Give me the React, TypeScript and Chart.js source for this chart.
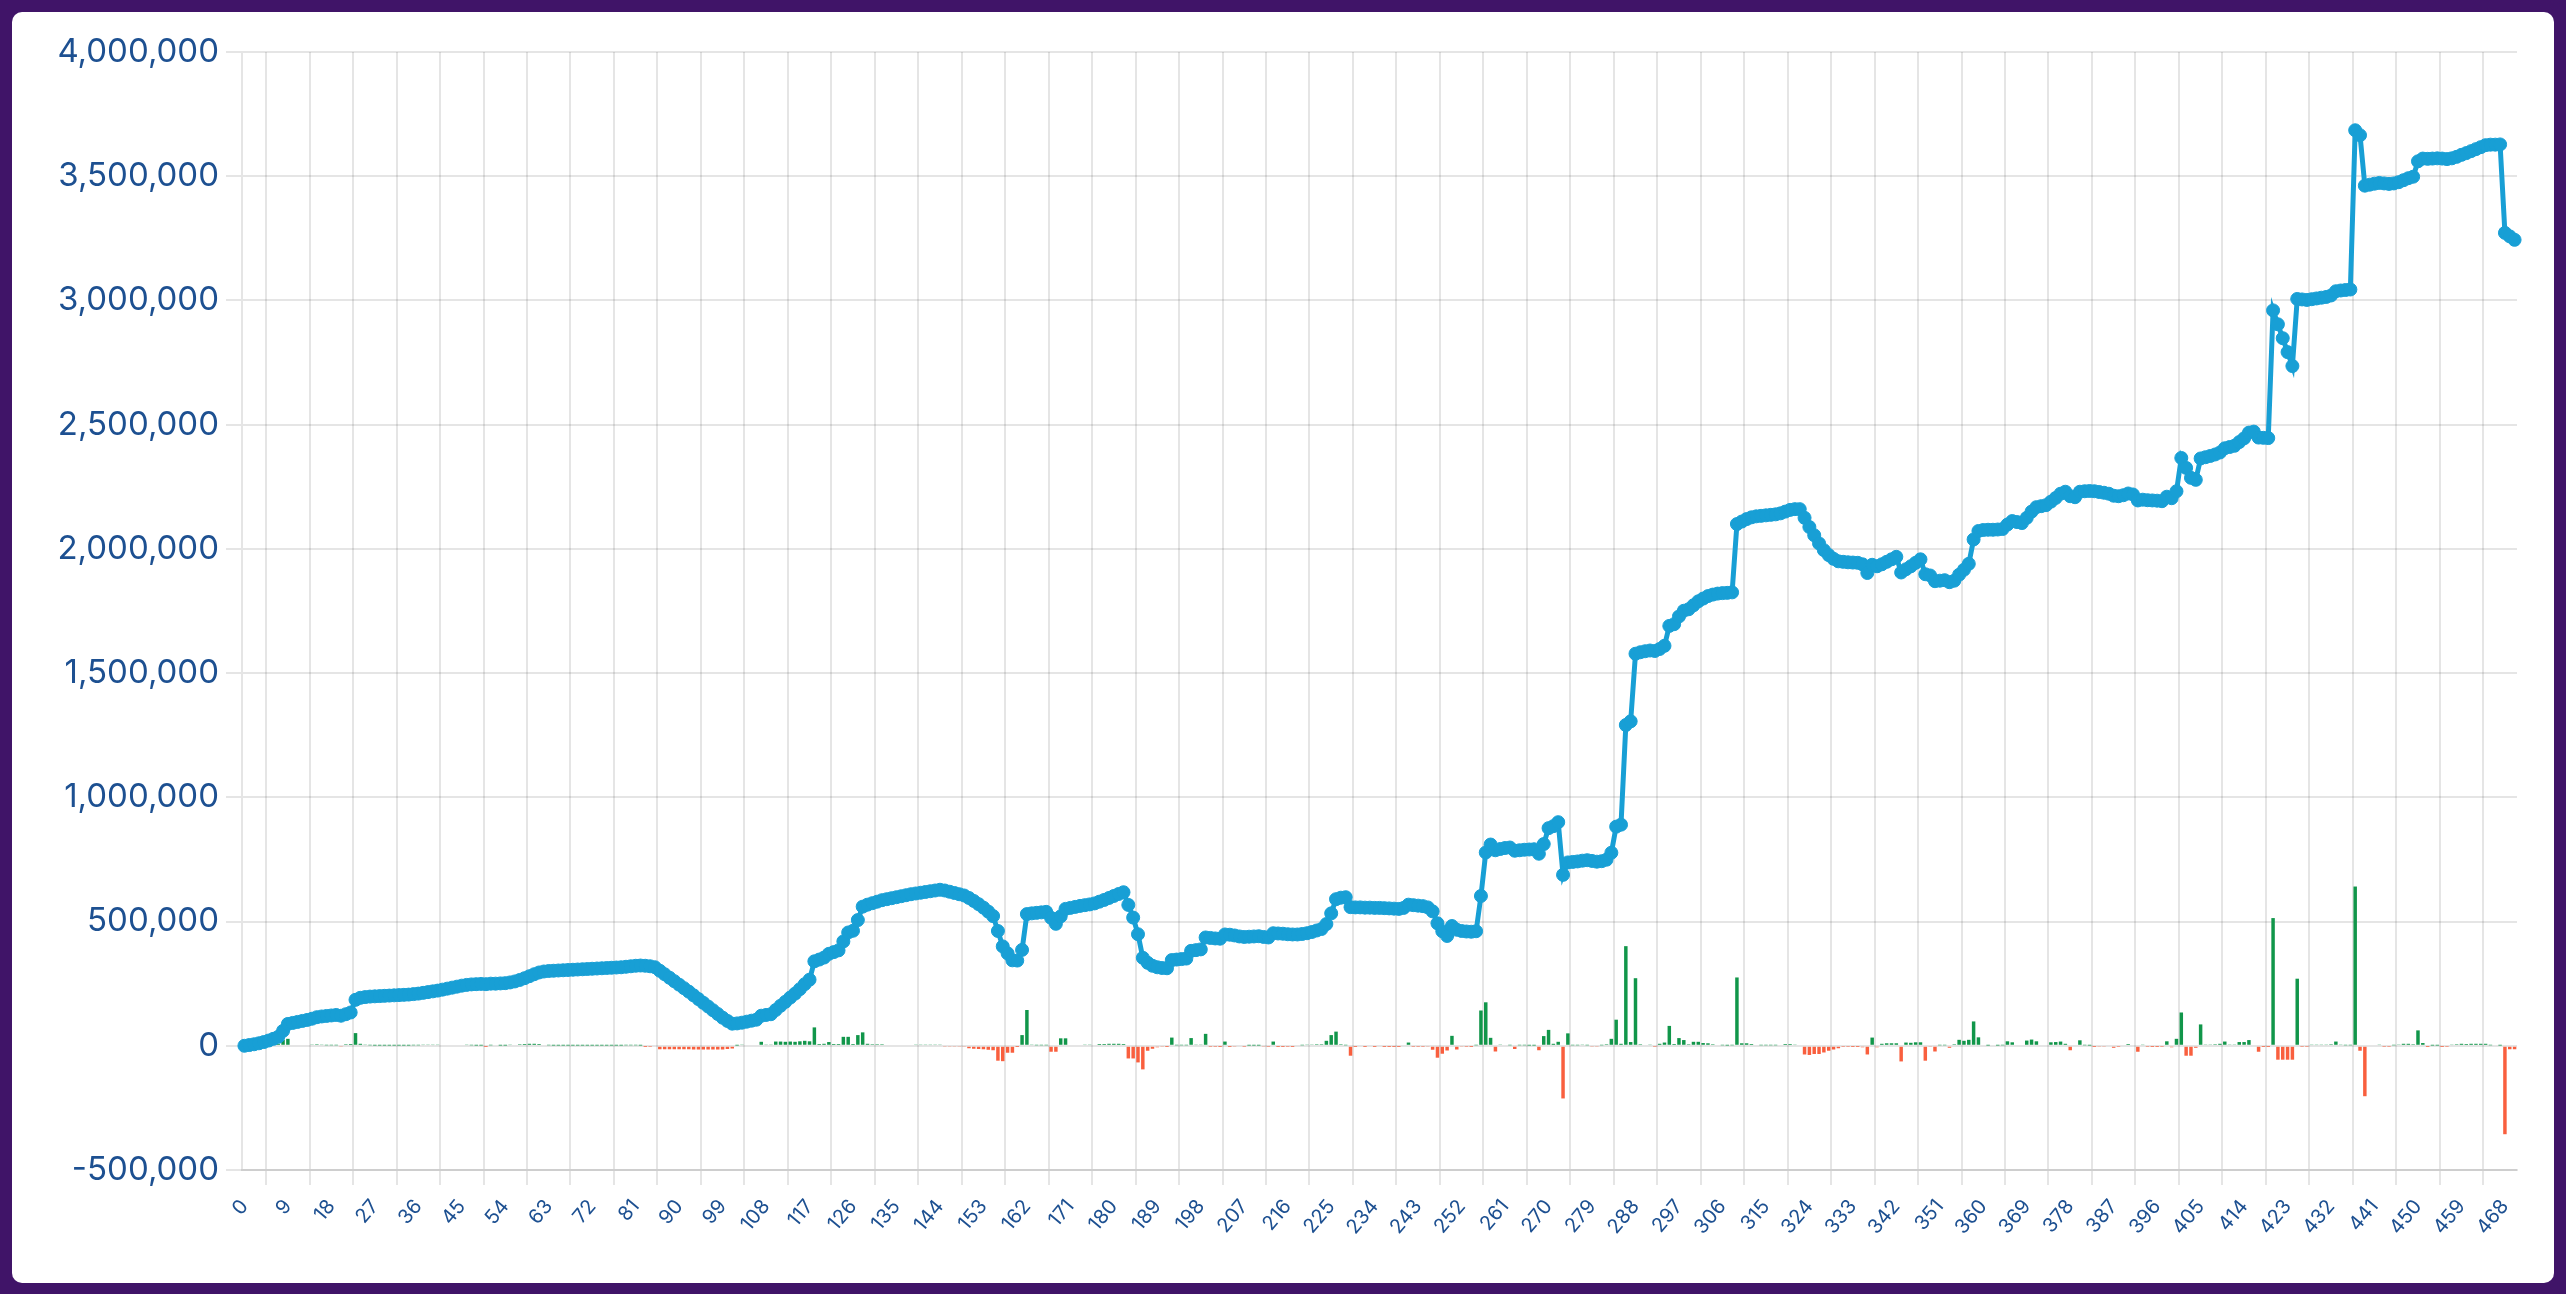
import React, { useEffect, useRef } from "react";
import { Chart, registerables } from "chart.js";

Chart.register(...registerables);

// cumulative equity per trade, in thousands
const equityK = [
  0, 3, 6, 10, 15, 21, 28, 36, 60, 88, 92, 96, 100, 104, 109, 115, 118, 120, 122, 124,
  121, 127, 134, 185, 193, 196, 198, 199, 200, 201, 202, 203, 204, 205, 206, 208, 210, 213, 216, 219,
  222, 226, 230, 234, 238, 242, 245, 247, 248, 249, 248, 250, 250, 251, 252, 255, 259, 265, 272, 280,
  288, 295, 299, 301, 302, 303, 304, 305, 306, 307, 308, 309, 310, 311, 312, 313, 314, 315, 316, 318,
  320, 322, 323, 322, 320, 316, 302, 288, 274, 260, 246, 232, 218, 203, 188, 173, 158, 143, 128, 113,
  100, 89, 90, 93, 97, 101, 105, 121, 124, 127, 144, 161, 177, 194, 210, 228, 248, 266, 340, 347,
  355, 370, 377, 384, 420, 456, 463, 506, 560, 568, 574, 580, 586, 590, 594, 598, 602, 606, 610, 613,
  616, 619, 622, 625, 628, 625, 620, 615, 610, 605, 595, 583, 570, 556, 540, 522, 462, 400, 372, 344,
  343, 386, 530, 533, 535, 537, 539, 515, 491, 521, 551, 555, 559, 563, 566, 569, 573, 580, 587, 595,
  603, 611, 618, 567, 516, 449, 354, 334, 322, 316, 313, 312, 345, 347, 349, 351, 382, 385, 388, 436,
  434, 432, 431, 448, 447, 444, 440, 438, 439, 440, 441, 438, 436, 453, 452, 451, 449, 448, 448, 450,
  453, 458, 464, 470, 490, 533, 590, 596, 598, 558, 557, 557, 556, 556, 555, 555, 554, 553, 552, 551,
  555, 568, 566, 564, 562, 557, 541, 493, 461, 442, 482, 467, 462, 460, 459, 461, 603, 778, 810, 787,
  792, 796, 798, 785, 787, 789, 790, 791, 773, 812, 876, 884, 900, 688, 738, 740, 742, 745, 747, 744,
  741, 743, 749, 777, 882, 890, 1291, 1306, 1578, 1584, 1588, 1591, 1589, 1597, 1610, 1690, 1697, 1728, 1751, 1757,
  1773, 1789, 1800, 1810, 1816, 1820, 1822, 1823, 1825, 2100, 2110, 2120, 2127, 2131, 2133, 2135, 2137, 2139, 2143, 2150,
  2157, 2160, 2160, 2125, 2088, 2055, 2022, 1995, 1975, 1960, 1950, 1948, 1946, 1945, 1944, 1938, 1903, 1936, 1930, 1938,
  1948, 1958, 1968, 1905, 1918, 1930, 1944, 1958, 1898, 1893, 1870, 1872, 1874, 1866, 1872, 1896, 1916, 1940, 2038, 2072,
  2076, 2077, 2077, 2078, 2080, 2098, 2112, 2108, 2104, 2125, 2150, 2168, 2172, 2176, 2190, 2205, 2222, 2230, 2212, 2208,
  2230, 2232, 2233, 2232, 2229, 2226, 2222, 2214, 2212, 2216, 2223, 2219, 2195, 2198, 2196, 2195, 2194, 2192, 2210, 2204,
  2232, 2366, 2326, 2286, 2278, 2364, 2369, 2374, 2380, 2388, 2405, 2410, 2415, 2430, 2445, 2468, 2472, 2448, 2447, 2446,
  2960, 2904, 2848, 2792, 2736, 3006, 3004, 3002, 3005, 3008, 3011, 3014, 3020, 3037, 3040, 3042, 3044, 3685, 3665, 3462,
  3466, 3470, 3473, 3471, 3469, 3471, 3476, 3484, 3492, 3498, 3560, 3571, 3570, 3571, 3572, 3571, 3569, 3572, 3578, 3586,
  3593, 3601, 3609, 3617, 3625, 3627, 3627, 3628, 3272, 3258, 3244,
];

// profit / loss of each trade, in thousands
const pnlK = [
  0, 3, 3, 4, 5, 6, 7, 8, 24, 28, 4, 4, 4, 4, 5, 6, 3, 2, 2, 2,
  -3, 6, 7, 51, 8, 3, 2, 1, 1, 1, 1, 1, 1, 1, 1, 2, 2, 3, 3, 3,
  3, 4, 4, 4, 4, 4, 3, 2, 1, 1, -1, 2, 0, 1, 1, 3, 4, 6, 7, 8,
  8, 7, 4, 2, 1, 1, 1, 1, 1, 1, 1, 1, 1, 1, 1, 1, 1, 1, 1, 2,
  2, 2, 1, -1, -2, -4, -14, -14, -14, -14, -14, -14, -14, -15, -15, -15, -15, -15, -15, -15,
  -13, -11, 1, 3, 4, 4, 4, 16, 3, 3, 17, 17, 16, 17, 16, 18, 20, 18, 74, 7,
  8, 15, 7, 7, 36, 36, 7, 43, 54, 8, 6, 6, 6, 4, 4, 4, 4, 4, 4, 3,
  3, 3, 3, 3, 3, -3, -5, -5, -5, -5, -10, -12, -13, -14, -16, -18, -60, -62, -28, -28,
  -1, 43, 144, 3, 2, 2, 2, -24, -24, 30, 30, 4, 4, 4, 3, 3, 4, 7, 7, 8,
  8, 8, 7, -51, -51, -67, -95, -20, -12, -6, -3, -1, 33, 2, 2, 2, 31, 3, 3, 48,
  -2, -2, -1, 17, -1, -3, -4, -2, 1, 1, 1, -3, -2, 17, -1, -1, -2, -1, 0, 2,
  3, 5, 6, 6, 20, 43, 57, 6, 2, -40, -1, 0, -1, 0, -1, 0, -1, -1, -1, -1,
  4, 13, -2, -2, -2, -5, -16, -48, -32, -19, 40, -15, -5, -2, -1, 2, 142, 175, 32, -23,
  5, 4, 2, -13, 2, 2, 1, 1, -18, 39, 64, 8, 16, -212, 50, 2, 2, 3, 2, -3,
  -3, 2, 6, 28, 105, 8, 401, 15, 272, 6, 4, 3, -2, 8, 13, 80, 7, 31, 23, 6,
  16, 16, 11, 10, 6, 4, 2, 1, 2, 275, 10, 10, 7, 4, 2, 2, 2, 2, 4, 7,
  7, 3, 0, -35, -37, -33, -33, -27, -20, -15, -10, -2, -2, -1, -1, -6, -35, 33, -6, 8,
  10, 10, 10, -63, 13, 12, 14, 14, -60, -5, -23, 2, 2, -8, 6, 24, 20, 24, 98, 34,
  4, 1, 0, 1, 2, 18, 14, -4, -4, 21, 25, 18, 4, 4, 14, 15, 17, 8, -18, -4,
  22, 2, 1, -1, -3, -3, -4, -8, -2, 4, 7, -4, -24, 3, -2, -1, -1, -2, 18, -6,
  28, 134, -40, -40, -8, 86, 5, 5, 6, 8, 17, 5, 5, 15, 15, 23, 4, -24, -1, -1,
  514, -56, -56, -56, -56, 270, -2, -2, 3, 3, 3, 3, 6, 17, 3, 2, 2, 641, -20, -203,
  4, 4, 3, -2, -2, 2, 5, 8, 8, 6, 62, 11, -1, 1, 1, -1, -2, 3, 6, 8,
  7, 8, 8, 8, 8, 2, 0, 1, -356, -14, -14,
];

const tradeLabels = equityK.map((_, i) => String(i));

const PURPLE = "#401468";
const BLUE = "#189fd5";
const GREEN = "#11964a";
const RED = "#f95f3e";
const TEXT = "#1d5091";
const GRID = "rgba(0,0,0,0.1)";
const FONT = "Inter, 'Noto Sans', sans-serif";

const CARD_W = 2542;
const CARD_H = 1271;

const App: React.FC = () => {
  const canvasRef = useRef<HTMLCanvasElement>(null);

  useEffect(() => {
    document.body.style.margin = "0";
    document.body.style.background = PURPLE;
    document.body.style.overflow = "hidden";

    const ctx = canvasRef.current?.getContext("2d");
    if (!ctx) return;

    const chart = new Chart(ctx, {
      type: "bar",
      data: {
        labels: tradeLabels,
        datasets: [
          {
            type: "line",
            label: "Equity",
            data: equityK.map((v) => v * 1000),
            borderColor: BLUE,
            backgroundColor: BLUE,
            borderWidth: 5,
            pointRadius: 6.5,
            pointBorderWidth: 1,
            pointBackgroundColor: BLUE,
            pointBorderColor: BLUE,
            tension: 0,
            fill: false,
          },
          {
            type: "bar",
            label: "P/L",
            data: pnlK.map((v) => v * 1000),
            backgroundColor: (c: any) => (c.raw >= 0 ? GREEN : RED),
          },
        ],
      },
      options: {
        animation: false,
        responsive: false,
        maintainAspectRatio: false,
        devicePixelRatio: 1,
        layout: { padding: { top: 40, right: 37, left: 0, bottom: 0 } },
        plugins: {
          legend: { display: false },
          tooltip: { enabled: false },
        },
        scales: {
          x: {
            grid: { color: GRID, lineWidth: 2, tickLength: 15 },
            border: { color: GRID, width: 2 },
            ticks: {
              color: TEXT,
              font: { family: FONT, size: 20 },
              minRotation: 50,
              maxRotation: 50,
              autoSkip: true,
              autoSkipPadding: 3,
              maxTicksLimit: 55,
              padding: 10,
            },
            afterFit: (s: any) => {
              s.height = 113;
            },
          },
          y: {
            min: -500000,
            max: 4000000,
            grid: { color: GRID, lineWidth: 2, tickLength: 16 },
            border: { color: GRID, width: 2 },
            ticks: {
              stepSize: 500000,
              color: TEXT,
              font: { family: FONT, size: 33 },
              padding: 7,
              callback: (v: any) => Number(v).toLocaleString("en-US"),
            },
            afterFit: (s: any) => {
              s.width = 230;
            },
          },
        },
      },
    });

    return () => chart.destroy();
  }, []);

  return (
    <div
      style={{
        position: "absolute",
        left: 12,
        top: 12,
        width: CARD_W,
        height: CARD_H,
        background: "#ffffff",
        borderRadius: 10,
        overflow: "hidden",
      }}
    >
      <canvas
        ref={canvasRef}
        width={CARD_W}
        height={CARD_H}
        style={{ width: CARD_W, height: CARD_H, display: "block" }}
      />
    </div>
  );
};

export default App;
